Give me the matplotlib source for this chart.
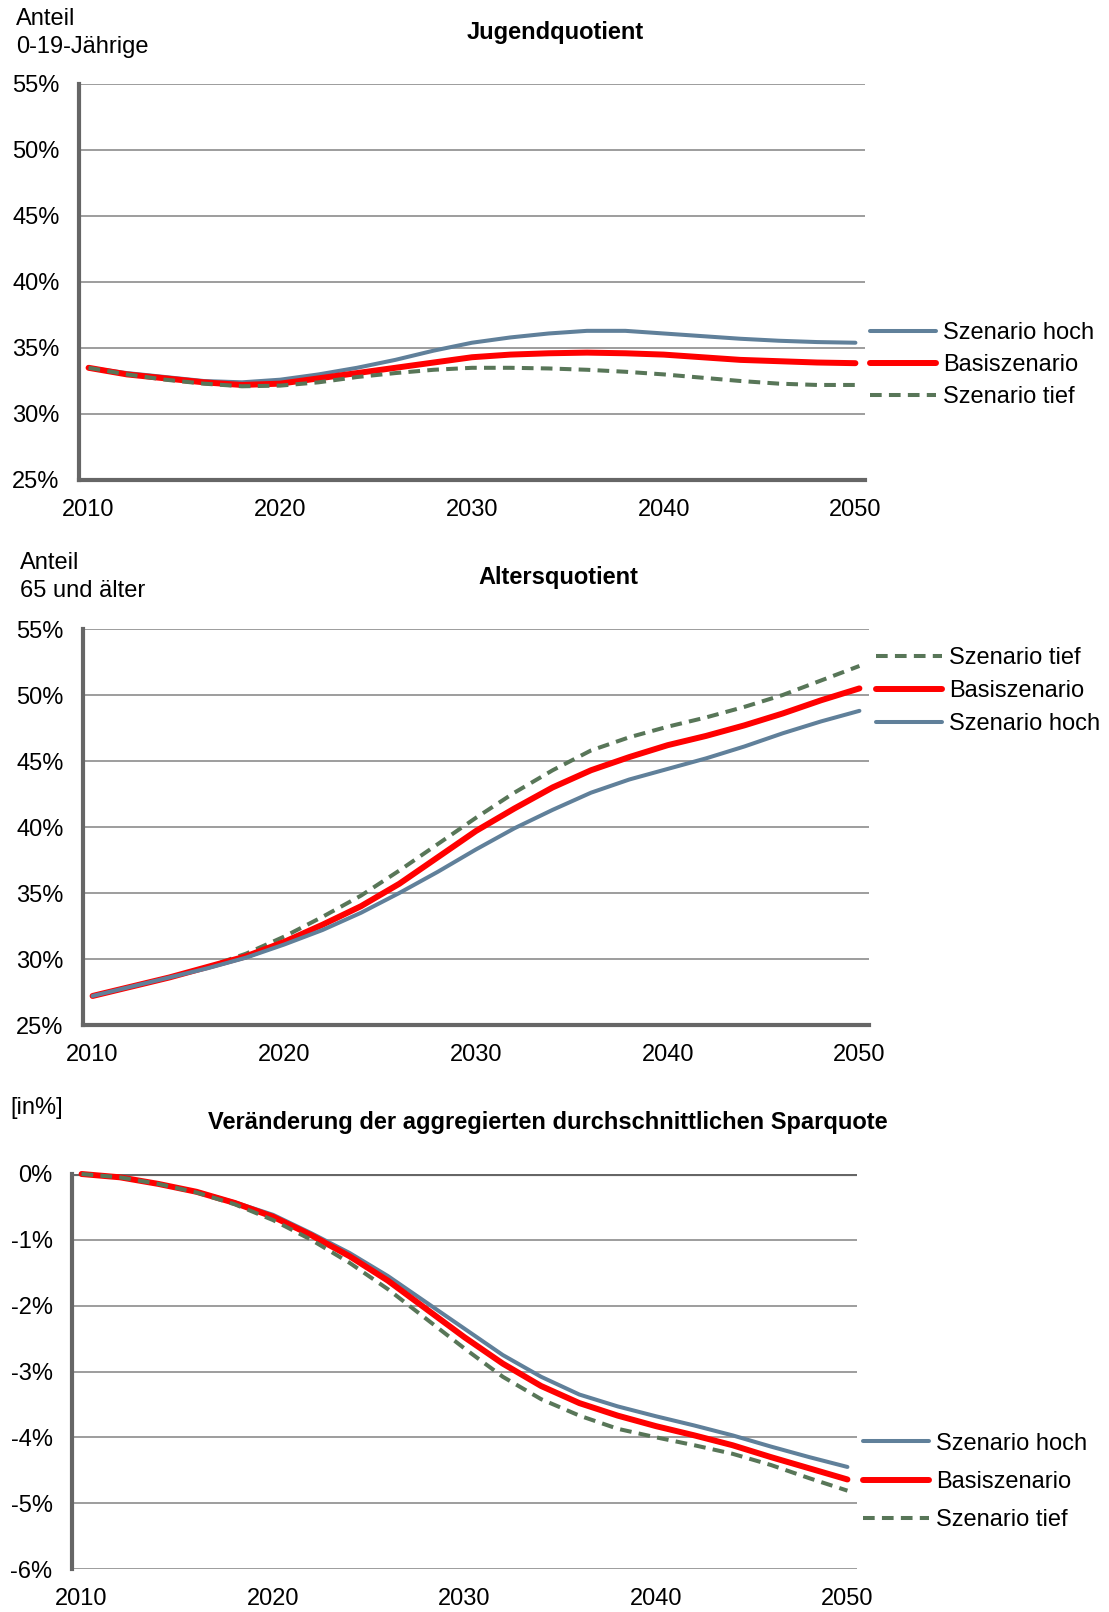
import matplotlib
matplotlib.use("Agg")
import matplotlib.pyplot as plt
from matplotlib.ticker import FuncFormatter
from matplotlib.lines import Line2D

plt.rcParams['font.family'] = ['Liberation Sans', 'DejaVu Sans']

years = [2010, 2012, 2014, 2016, 2018, 2020, 2022, 2024, 2026, 2028, 2030,
         2032, 2034, 2036, 2038, 2040, 2042, 2044, 2046, 2048, 2050]

# Jugendquotient (%)
jung_hoch = [33.5, 33.1, 32.8, 32.5, 32.4, 32.6, 33.0, 33.5, 34.1, 34.8, 35.4,
             35.8, 36.1, 36.3, 36.3, 36.1, 35.9, 35.7, 35.55, 35.45, 35.4]
jung_basis = [33.5, 33.0, 32.7, 32.4, 32.2, 32.3, 32.7, 33.1, 33.5, 33.9, 34.3,
              34.5, 34.6, 34.65, 34.6, 34.5, 34.3, 34.1, 34.0, 33.9, 33.85]
jung_tief = [33.5, 33.0, 32.6, 32.3, 32.1, 32.15, 32.4, 32.8, 33.1, 33.35, 33.5,
             33.5, 33.45, 33.35, 33.2, 33.0, 32.75, 32.5, 32.3, 32.2, 32.2]

# Altersquotient (%)
alt_hoch = [27.2, 27.9, 28.6, 29.3, 30.1, 31.1, 32.2, 33.5, 35.0, 36.6, 38.3,
            39.9, 41.3, 42.6, 43.6, 44.4, 45.2, 46.1, 47.1, 48.0, 48.8]
alt_basis = [27.2, 27.9, 28.6, 29.4, 30.2, 31.3, 32.6, 34.0, 35.7, 37.7, 39.7,
             41.4, 43.0, 44.3, 45.3, 46.2, 46.9, 47.7, 48.6, 49.6, 50.5]
alt_tief = [27.2, 27.9, 28.6, 29.4, 30.4, 31.7, 33.2, 34.8, 36.7, 38.7, 40.7,
            42.6, 44.3, 45.8, 46.8, 47.6, 48.3, 49.1, 50.0, 51.1, 52.2]

# Veränderung der Sparquote (%)
spar_hoch = [0.0, -0.05, -0.15, -0.27, -0.43, -0.62, -0.90, -1.20, -1.55, -1.95, -2.35,
             -2.75, -3.08, -3.35, -3.53, -3.68, -3.82, -3.97, -4.14, -4.30, -4.45]
spar_basis = [0.0, -0.05, -0.15, -0.27, -0.44, -0.65, -0.93, -1.25, -1.62, -2.05, -2.48,
              -2.88, -3.22, -3.48, -3.67, -3.83, -3.97, -4.12, -4.30, -4.47, -4.64]
spar_tief = [0.0, -0.05, -0.15, -0.28, -0.46, -0.70, -1.00, -1.35, -1.75, -2.20, -2.65,
             -3.08, -3.42, -3.67, -3.87, -4.00, -4.12, -4.25, -4.42, -4.62, -4.81]

x_ticks = [2010, 2020, 2030, 2040, 2050]

C_HOCH = '#60809a'
C_BASIS = '#ff0000'
C_TIEF = '#587658'
GRID = '#8c8c8c'
SPINE = '#666666'
FS = 17

W, H = 1109, 1612
fig = plt.figure(figsize=(W / 100, H / 100), dpi=100)


def make_axes(l, r, t, b):
    return fig.add_axes([l / W, 1 - b / H, (r - l) / W, (b - t) / H])


def style(sty):
    if sty == 'hoch':
        return dict(color=C_HOCH, lw=2.9, solid_capstyle='round')
    if sty == 'basis':
        return dict(color=C_BASIS, lw=4.3, solid_capstyle='round')
    return dict(color=C_TIEF, lw=2.9, linestyle=(0, (2.9, 1.8)))


def setup(ax, ylim, yticks):
    ax.set_xlim(2009.5, 2050.5)
    ax.set_ylim(*ylim)
    ax.set_yticks(yticks)
    ax.set_xticks(x_ticks)
    ax.yaxis.set_major_formatter(FuncFormatter(lambda v, p: f"{v:.0f}%"))
    ax.tick_params(length=0, labelsize=FS)
    ax.tick_params(axis='y', pad=14)
    ax.tick_params(axis='x', pad=14)
    ax.grid(axis='y', color=GRID, lw=1.2)
    ax.set_axisbelow(True)
    for s in ['top', 'right']:
        ax.spines[s].set_visible(False)
    ax.spines['left'].set_color(SPINE)
    ax.spines['left'].set_linewidth(3)
    ax.spines['bottom'].set_color(SPINE)
    ax.spines['bottom'].set_linewidth(3)


def add_legend(ax, order, x, y, spacing):
    names = {'hoch': 'Szenario hoch', 'basis': 'Basiszenario', 'tief': 'Szenario tief'}
    handles = [Line2D([], [], **style(k)) for k in order]
    ax.legend(handles, [names[k] for k in order], loc='center left',
              bbox_to_anchor=(x / W, 1 - y / H), bbox_transform=fig.transFigure,
              frameon=False, fontsize=FS, handlelength=2.8, handletextpad=0.3,
              labelspacing=spacing, borderpad=0, borderaxespad=0)


# --- Panel 1: Jugendquotient
ax1 = make_axes(79, 865, 84, 480)
setup(ax1, (25, 55), range(25, 56, 5))
for k, v in [('hoch', jung_hoch), ('basis', jung_basis), ('tief', jung_tief)]:
    ax1.plot(years, v, **style(k))
add_legend(ax1, ['hoch', 'basis', 'tief'], 870, 365, 0.43)
fig.text(555 / W, 1 - 33 / H, 'Jugendquotient', ha='center', va='center',
         fontsize=FS, fontweight='bold')
fig.text(16 / W, 1 - 33 / H, 'Anteil\n0-19-Jährige', ha='left', va='center',
         fontsize=FS, linespacing=1.4)

# --- Panel 2: Altersquotient
ax2 = make_axes(83, 869, 629, 1025)
setup(ax2, (25, 55), range(25, 56, 5))
for k, v in [('tief', alt_tief), ('basis', alt_basis), ('hoch', alt_hoch)]:
    ax2.plot(years, v, **style(k))
add_legend(ax2, ['tief', 'basis', 'hoch'], 876, 691, 0.47)
fig.text(558 / W, 1 - 577 / H, 'Altersquotient', ha='center', va='center',
         fontsize=FS, fontweight='bold')
fig.text(20 / W, 1 - 577 / H, 'Anteil\n65 und älter', ha='left', va='center',
         fontsize=FS, linespacing=1.4)

# --- Panel 3: Sparquote
ax3 = make_axes(72, 857, 1174, 1569)
setup(ax3, (-6, 0), range(-6, 1))
ax3.spines['bottom'].set_visible(False)
ax3.axhline(0, color=SPINE, lw=3, zorder=1.5)
for k, v in [('hoch', spar_hoch), ('basis', spar_basis), ('tief', spar_tief)]:
    ax3.plot(years, v, clip_on=False, zorder=3, **style(k))
add_legend(ax3, ['hoch', 'basis', 'tief'], 863, 1482, 0.69)
fig.text(548 / W, 1 - 1122 / H, 'Veränderung der aggregierten durchschnittlichen Sparquote',
         ha='center', va='center', fontsize=FS, fontweight='bold')
fig.text(10 / W, 1 - 1108 / H, '[in%]', ha='left', va='center', fontsize=FS)

fig.savefig('out.png', dpi=100)
